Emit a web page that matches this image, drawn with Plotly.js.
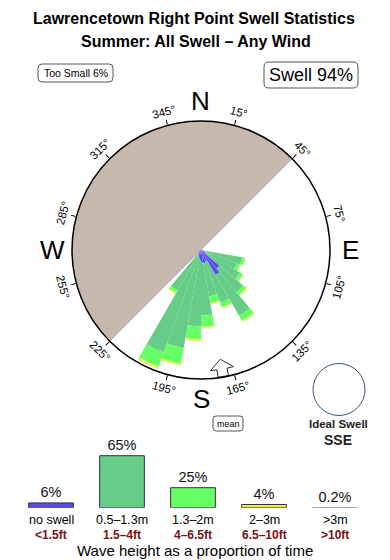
<!DOCTYPE html>
<html><head><meta charset="utf-8">
<script src="https://cdn.plot.ly/plotly-3.0.1.min.js"></script>
<style>html,body{margin:0;padding:0;background:#fff}#c{width:390px;height:560px}</style>
</head><body><div id="c"></div>
<script>
// ---- data ----
const directions = [105,115,125,135,145,155,165,175,185,195,205,215];
const noSwell  = [0.35,0.47,0.70,2.80,3.37,1.40,1.63,1.40,1.16,0.93,0.70,0.47];
const h05_13   = [4.48,4.01,4.54,3.60,5.47,5.12,3.84,6.22,7.73,10.64,11.98,4.94];
const h13_2    = [0.35,0.35,0.41,0.47,0.70,0.58,0.81,1.28,1.51,1.86,1.74,0.35];
const h2_3     = [0.06,0.06,0.06,0.12,0.12,0.12,0.12,0.17,0.17,0.17,0.23,0.17];
const h3plus   = [0,0,0,0,0,0,0,0,0,0.03,0.03,0];
const seriesNames = ['no swell','0.5–1.3m','1.3–2m','2–3m','>3m'];
const seriesFt = ['<1.5ft','1.5–4ft','4–6.5ft','6.5–10ft','>10ft'];
const seriesPct = [6,65,25,4,0.2];
const seriesColors = ['#5b4cf0','#66cc88','#66ff66','#f2f22e','#bfa39a'];
const angleTicks = [15,45,75,105,135,165,195,225,255,285,315,345];
const compass = ['N','E','S','W'];
const compassAngles = [0,90,180,270];
const landCenter = 315, landWidth = 180;
const meanDir = 170;
const rMax = 15;

// ---- geometry helpers ----
const W=390,H=560, CX=201, CY=250, R=129;
const px = x => x/W, py = y => 1 - y/H;
const k = rMax/R; // % per pixel
function polarXY(a, rp){ const t=a*Math.PI/180; return [CX+rp*Math.sin(t), CY-rp*Math.cos(t)]; }
function rrect(x0,y0,x1,y1,r){
  return `M${px(x0+r)},${py(y0)} L${px(x1-r)},${py(y0)} Q${px(x1)},${py(y0)} ${px(x1)},${py(y0+r)} L${px(x1)},${py(y1-r)} Q${px(x1)},${py(y1)} ${px(x1-r)},${py(y1)} L${px(x0+r)},${py(y1)} Q${px(x0)},${py(y1)} ${px(x0)},${py(y1-r)} L${px(x0)},${py(y0+r)} Q${px(x0)},${py(y0)} ${px(x0+r)},${py(y0)} Z`;
}
const FONT = 'Liberation Sans, Arial, sans-serif';

const traces = [];
traces.push({type:'barpolar', theta:[landCenter], r:[rMax], width:[landWidth],
  marker:{color:'#c5b9ad', line:{color:'#b4b8c0', width:1}}, hoverinfo:'skip', showlegend:false});
const stacks = [noSwell,h05_13,h13_2,h2_3,h3plus];
stacks.forEach((s,i)=>{
  traces.push({type:'barpolar', theta:directions, r:s, width:directions.map(()=>10),
    name:seriesNames[i], marker:{color:seriesColors[i], line:{width:0}}, hoverinfo:'skip', showlegend:false});
});
// mean arrow
const arrowOff = [0,5.5,2.4,2.4,-2.4,-2.4,-5.5,0];
const arrowR   = [111,121,121,128.5,128.5,121,121,111];
traces.push({type:'scatterpolar', theta:arrowOff.map(o=>meanDir+o), r:arrowR.map(v=>v*k),
  mode:'lines', fill:'toself', fillcolor:'#fff', line:{color:'#1f2a44', width:1}, hoverinfo:'skip', showlegend:false});

// legend bars
traces.push({type:'bar', x:seriesNames, y:seriesPct, xaxis:'x', yaxis:'y', width:0.63,
  marker:{color:seriesColors, line:{color:['#333','#333','#333','#333','#b09890'], width:1}},
  text:seriesPct.map(v=>v+'%'), textposition:'outside', cliponaxis:false, constraintext:'none',
  textfont:{family:FONT, size:14.5, color:'#111'}, hoverinfo:'skip', showlegend:false});

const ann = [];
function A(o){ ann.push(Object.assign({xref:'paper', yref:'paper', showarrow:false, xanchor:'center', yanchor:'middle'}, o)); }
A({text:'<b>Lawrencetown Right Point Swell Statistics</b>', x:px(194), y:py(18), font:{family:FONT,size:16,color:'#000'}});
A({text:'<b>Summer: All Swell – Any Wind</b>', x:px(196), y:py(42), font:{family:FONT,size:16,color:'#000'}});
A({text:'Too Small 6%', x:px(75.5), y:py(73), font:{family:FONT,size:10.5,color:'#000'}});
A({text:'Swell 94%', x:px(311), y:py(75), font:{family:FONT,size:18,color:'#000'}});
angleTicks.forEach(a=>{
  const [x,y]=polarXY(a,143);
  const rot = a<=90 ? a : (a<270 ? a-180 : a-360);
  A({text:a+'°', x:px(x), y:py(y), textangle:rot, font:{family:FONT,size:11.5,color:'#000'}});
});
compass.forEach((c,i)=>{
  const [x,y]=polarXY(compassAngles[i],149);
  A({text:c, x:px(x), y:py(y), font:{family:FONT,size:26,color:'#000'}});
});
A({text:'mean', x:px(228), y:py(423.5), font:{family:FONT,size:9,color:'#000'}});
A({text:'<b>Ideal Swell</b>', x:px(338), y:py(424), font:{family:FONT,size:11.5,color:'#222'}});
A({text:'<b>SSE</b>', x:px(338), y:py(440), font:{family:FONT,size:14,color:'#222'}});
seriesNames.forEach((n,i)=>{
  A({text:n, x:n, xref:'x', y:py(520), font:{family:FONT,size:12.5,color:'#000'}});
  A({text:'<b>'+seriesFt[i].replace('<','&lt;').replace('>','&gt;')+'</b>', x:n, xref:'x', y:py(535), font:{family:FONT,size:12,color:'#7a1010'}});
});
A({text:'Wave height as a proportion of time', x:px(195), y:py(550.5), font:{family:FONT,size:15,color:'#000'}});

const shapes = [
  {type:'path', xref:'paper', yref:'paper', path:rrect(38,64,113,82,4), line:{color:'#555',width:1}},
  {type:'path', xref:'paper', yref:'paper', path:rrect(264,62,358,88,5), line:{color:'#555',width:1}},
  {type:'path', xref:'paper', yref:'paper', path:rrect(213,416,243,431,3), line:{color:'#555',width:1}},
  {type:'circle', xref:'paper', yref:'paper', x0:px(313), x1:px(365), y0:py(415.5), y1:py(363.5), line:{color:'#3a5478',width:1}}
];

const layout = {
  width:W, height:H, margin:{l:0,r:0,t:0,b:0}, paper_bgcolor:'#fff', plot_bgcolor:'rgba(0,0,0,0)',
  font:{family:FONT},
  polar:{
    domain:{x:[px(CX-R),px(CX+R)], y:[py(CY+R),py(CY-R)]},
    bgcolor:'#fff', barmode:'stack', hole:0,
    radialaxis:{range:[0,rMax], visible:false, showgrid:false},
    angularaxis:{rotation:90, direction:'clockwise', showgrid:false, showline:true, linecolor:'#000', linewidth:1.5,
      ticks:'outside', ticklen:5, tickwidth:1, tickcolor:'#000', tickmode:'array', tickvals:angleTicks, showticklabels:false}
  },
  xaxis:{domain:[px(15.5),px(370.5)], range:[-0.5,4.5], visible:false, fixedrange:true, type:'category'},
  yaxis:{domain:[py(507.7),py(427.7)], range:[0,100], visible:false, fixedrange:true},
  annotations:ann, shapes:shapes, showlegend:false
};
Plotly.newPlot('c', traces, layout, {displayModeBar:false, staticPlot:true});
</script></body></html>
